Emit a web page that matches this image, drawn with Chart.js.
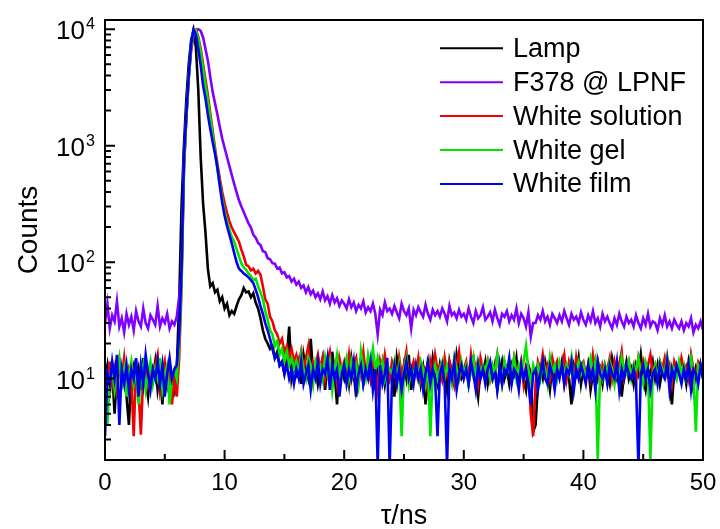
<!DOCTYPE html>
<html>
<head>
<meta charset="utf-8">
<script src="https://cdn.jsdelivr.net/npm/chart.js@4.4.1/dist/chart.umd.min.js"></script>
<style>
  html, body { margin: 0; padding: 0; background: #fff; }
</style>
</head>
<body>
<canvas id="chart" width="720" height="529"></canvas>
<script>
// time axis (ns)
const tau = [
  0, 0.2, 0.4, 0.6, 0.8, 1, 1.2, 1.4, 1.6, 1.8,
  2, 2.2, 2.4, 2.6, 2.8, 3, 3.2, 3.4, 3.6, 3.8,
  4, 4.2, 4.4, 4.6, 4.8, 5, 5.2, 5.4, 5.6, 5.8,
  6, 6.2, 6.4, 6.6, 6.8, 7, 7.2, 7.4, 7.6, 7.8,
  8, 8.2, 8.4, 8.6, 8.8, 9, 9.2, 9.4, 9.6, 9.8,
  10, 10.2, 10.4, 10.6, 10.8, 11, 11.2, 11.4, 11.6, 11.8,
  12, 12.2, 12.4, 12.6, 12.8, 13, 13.2, 13.4, 13.6, 13.8,
  14, 14.2, 14.4, 14.6, 14.8, 15, 15.2, 15.4, 15.6, 15.8,
  16, 16.2, 16.4, 16.6, 16.8, 17, 17.2, 17.4, 17.6, 17.8,
  18, 18.2, 18.4, 18.6, 18.8, 19, 19.2, 19.4, 19.6, 19.8,
  20, 20.2, 20.4, 20.6, 20.8, 21, 21.2, 21.4, 21.6, 21.8,
  22, 22.2, 22.4, 22.6, 22.8, 23, 23.2, 23.4, 23.6, 23.8,
  24, 24.2, 24.4, 24.6, 24.8, 25, 25.2, 25.4, 25.6, 25.8,
  26, 26.2, 26.4, 26.6, 26.8, 27, 27.2, 27.4, 27.6, 27.8,
  28, 28.2, 28.4, 28.6, 28.8, 29, 29.2, 29.4, 29.6, 29.8,
  30, 30.2, 30.4, 30.6, 30.8, 31, 31.2, 31.4, 31.6, 31.8,
  32, 32.2, 32.4, 32.6, 32.8, 33, 33.2, 33.4, 33.6, 33.8,
  34, 34.2, 34.4, 34.6, 34.8, 35, 35.2, 35.4, 35.6, 35.8,
  36, 36.2, 36.4, 36.6, 36.8, 37, 37.2, 37.4, 37.6, 37.8,
  38, 38.2, 38.4, 38.6, 38.8, 39, 39.2, 39.4, 39.6, 39.8,
  40, 40.2, 40.4, 40.6, 40.8, 41, 41.2, 41.4, 41.6, 41.8,
  42, 42.2, 42.4, 42.6, 42.8, 43, 43.2, 43.4, 43.6, 43.8,
  44, 44.2, 44.4, 44.6, 44.8, 45, 45.2, 45.4, 45.6, 45.8,
  46, 46.2, 46.4, 46.6, 46.8, 47, 47.2, 47.4, 47.6, 47.8,
  48, 48.2, 48.4, 48.6, 48.8, 49, 49.2, 49.4, 49.6, 49.8, 50
];

const lamp = [
  10, 13, 8, 12, 5, 11, 14, 9, 12, 7,
  4, 11, 13, 9, 12, 8, 15, 10, 7, 12,
  10, 14, 8, 11, 6, 12, 9, 13, 10, 8,
  12, 45, 300, 1000, 2500, 5000, 8000, 9800, 7000, 3000,
  800, 320, 180, 88, 62, 66, 55, 58, 46, 50,
  40, 44, 35, 38, 36, 42, 48, 52, 60, 55,
  56, 50, 54, 45, 40, 33, 26, 22, 20, 18,
  19, 15, 17, 13, 14, 11, 15, 28, 10, 13,
  11, 14, 9, 16, 12, 10, 22, 11, 13, 9,
  12, 15, 8, 13, 10, 17, 11, 6, 14, 12,
  10, 13, 9, 15, 11, 7, 12, 14, 9, 11,
  13, 10, 16, 8, 12, 11, 14, 9, 13, 10,
  12, 7, 15, 11, 9, 13, 10, 16, 8, 12,
  11, 14, 9, 12, 6, 13, 10, 15, 11, 9,
  13, 10, 12, 8, 14, 11, 9, 16, 12, 10,
  11, 13, 9, 12, 15, 10, 7, 12, 11, 14,
  9, 12, 10, 13, 8, 11, 14, 10, 12, 9,
  13, 11, 15, 9, 12, 10, 8, 13, 11, 3.5,
  4, 9, 12, 10, 14, 11, 8, 13, 10, 12,
  11, 14, 9, 12, 10, 6, 13, 11, 15, 9,
  12, 10, 13, 8, 11, 14, 10, 12, 9, 13,
  11, 9, 15, 12, 10, 13, 7, 11, 14, 10,
  12, 9, 13, 11, 16, 10, 8, 12, 11, 14,
  10, 13, 9, 12, 11, 15, 10, 6, 12, 11,
  13, 10, 12, 9, 14, 11, 8, 12, 10, 13, 11
];

const f378 = [
  30, 44, 27, 35, 31, 46, 28, 33, 25, 36,
  29, 34, 26, 38, 31, 28, 40, 30, 27, 35,
  32, 29, 42, 28, 33, 30, 36, 27, 31, 29,
  34, 50, 80, 600, 1800, 3800, 6500, 8800, 9800, 10000,
  9700, 8500, 6800, 5400, 3900, 2900, 2300, 1850, 1450, 1150,
  960, 800, 670, 560, 470, 400, 340, 300, 270, 240,
  215, 198, 172, 162, 146, 140, 124, 122, 108, 106,
  98, 97, 88, 90, 80, 82, 74, 76, 68, 72,
  64, 68, 60, 63, 55, 61, 53, 57, 50, 54,
  48, 56, 47, 51, 44, 52, 45, 49, 42, 47,
  44, 40, 48, 41, 45, 38, 43, 40, 46, 37,
  41, 38, 44, 36, 24, 39, 35, 45, 38, 40,
  36, 42, 37, 33, 44, 38, 35, 40, 27, 39,
  35, 41, 37, 34, 43, 36, 32, 39, 35, 38,
  34, 40, 36, 31, 42, 35, 37, 33, 39, 34,
  36, 32, 40, 34, 30, 38, 33, 35, 41, 32,
  34, 37, 31, 39, 33, 29, 36, 34, 38, 31,
  35, 32, 40, 30, 36, 33, 28, 37, 23, 30,
  30, 35, 32, 38, 31, 34, 29, 36, 33, 30,
  35, 31, 38, 33, 29, 36, 32, 34, 30, 37,
  32, 29, 35, 31, 38, 30, 33, 28, 36, 31,
  34, 30, 27, 33, 29, 36, 31, 28, 34, 30,
  32, 28, 35, 30, 27, 33, 29, 36, 28, 31,
  30, 26, 33, 29, 35, 28, 31, 27, 32, 29,
  27, 31, 26, 30, 28, 33, 25, 29, 27, 31, 26
];

const whiteSolution = [
  11, 8, 14, 9, 12, 7, 13, 10, 15, 9,
  12, 10, 3.2, 13, 8, 3.3, 11, 14, 9, 12,
  10, 13, 16, 8, 11, 14, 9, 12, 6, 10,
  7, 15, 60, 650, 1700, 3800, 7000, 9500, 9900, 8600,
  6800, 5000, 3700, 2700, 1900, 1350, 950, 700, 520, 400,
  320, 265, 225, 198, 180, 165, 150, 128, 112, 95,
  92, 85, 88, 80, 84, 78, 62, 48, 44, 34,
  31, 26, 24, 20, 22, 17, 19, 15, 18, 14,
  16, 13, 17, 12, 15, 19, 11, 14, 13, 16,
  12, 15, 10, 14, 17, 11, 13, 9, 15, 12,
  14, 11, 16, 10, 13, 15, 9, 12, 17, 11,
  13, 10, 15, 12, 8, 14, 11, 16, 12, 10,
  14, 12, 9, 15, 11, 13, 17, 10, 12, 14,
  11, 15, 10, 13, 12, 8, 14, 11, 16, 12,
  13, 10, 15, 11, 14, 12, 9, 13, 17, 11,
  12, 14, 10, 16, 11, 13, 9, 15, 12, 11,
  14, 10, 13, 12, 16, 11, 9, 14, 12, 13,
  10, 15, 12, 11, 14, 9, 13, 12, 5, 3.2,
  9, 14, 12, 16, 11, 13, 10, 15, 12, 14,
  11, 13, 16, 10, 14, 12, 9, 15, 11, 13,
  14, 11, 13, 10, 16, 12, 14, 9, 13, 11,
  12, 15, 10, 14, 11, 13, 17, 10, 12, 14,
  11, 13, 9, 15, 12, 14, 10, 13, 16, 11,
  13, 10, 14, 12, 15, 11, 13, 9, 14, 12,
  11, 15, 12, 13, 10, 16, 12, 11, 14, 13, 10
];

const whiteGel = [
  12, 4, 10, 13, 8, 11, 15, 9, 12, 7,
  11, 14, 9, 12, 6, 10, 13, 8, 11, 14,
  9, 12, 10, 15, 8, 11, 13, 6, 10, 12,
  10, 20, 70, 700, 1750, 3900, 7200, 9700, 9800, 8300,
  6300, 4600, 3300, 2450, 1750, 1250, 880, 640, 470, 350,
  270, 225, 190, 165, 150, 130, 112, 98, 90, 86,
  80, 76, 70, 72, 62, 55, 48, 38, 32, 26,
  24, 19, 21, 16, 18, 14, 17, 13, 15, 12,
  14, 11, 16, 12, 10, 15, 13, 9, 14, 12,
  13, 10, 15, 11, 14, 8, 12, 16, 11, 13,
  12, 15, 10, 14, 11, 13, 9, 17, 12, 10,
  16, 13, 18, 12, 15, 11, 14, 10, 13, 12,
  11, 14, 10, 13, 3.2, 12, 15, 9, 12, 11,
  13, 10, 14, 12, 9, 15, 3.2, 11, 13, 10,
  12, 14, 10, 13, 11, 9, 15, 12, 10, 14,
  11, 13, 9, 12, 15, 10, 14, 11, 13, 12,
  14, 10, 13, 11, 16, 12, 9, 14, 11, 13,
  12, 15, 10, 13, 11, 14, 19, 12, 9, 13,
  11, 13, 10, 14, 12, 9, 15, 11, 13, 10,
  14, 12, 10, 13, 11, 15, 9, 12, 14, 11,
  13, 10, 12, 15, 11, 14, 2, 12, 10, 13,
  11, 14, 12, 9, 13, 10, 15, 12, 11, 14,
  10, 13, 12, 15, 11, 9, 14, 12, 2, 11,
  13, 10, 14, 12, 11, 15, 9, 13, 12, 10,
  14, 11, 13, 10, 12, 15, 11, 3.5, 13, 12, 10
];

const whiteFilm = [
  3.2, 11, 9, 14, 10, 16, 4, 12, 9, 13,
  8, 12, 10, 15, 7, 13, 9, 16, 11, 8,
  12, 10, 14, 9, 13, 7, 11, 15, 10, 12,
  13, 24, 90, 800, 1900, 4000, 7500, 9900, 9000, 6800,
  4900, 3300, 2550, 1850, 1400, 1080, 850, 640, 450, 325,
  250, 205, 172, 145, 120, 100, 88, 84, 80, 77,
  74, 70, 66, 58, 50, 42, 36, 30, 26, 22,
  18, 15, 16, 13, 14, 11, 13, 10, 12, 9,
  12, 10, 14, 9, 11, 13, 8, 12, 10, 14,
  9, 12, 11, 15, 8, 13, 10, 12, 7, 11,
  13, 9, 12, 10, 14, 8, 11, 13, 9, 12,
  10, 14, 8, 12, 1.8, 13, 9, 11, 15, 1.8,
  10, 13, 9, 12, 8, 11, 14, 10, 12, 9,
  13, 10, 12, 8, 11, 14, 9, 12, 10, 3.2,
  11, 13, 9, 1.8, 12, 10, 14, 8, 11, 13,
  10, 12, 9, 14, 11, 8, 13, 10, 12, 9,
  12, 14, 10, 11, 8, 13, 9, 12, 11, 15,
  9, 12, 11, 8, 13, 10, 12, 9, 6, 11,
  12, 8, 11, 14, 10, 9, 13, 11, 8, 12,
  10, 13, 9, 12, 11, 14, 8, 12, 10, 13,
  11, 9, 13, 10, 12, 8, 14, 11, 10, 12,
  9, 13, 11, 10, 14, 8, 12, 10, 13, 11,
  10, 12, 9, 1.8, 11, 13, 10, 12, 8, 11,
  12, 9, 13, 11, 10, 14, 8, 12, 10, 13,
  11, 9, 12, 10, 13, 8, 12, 11, 9, 13, 10
];

const seriesNames = ['Lamp', 'F378 @ LPNF', 'White solution', 'White gel', 'White film'];
const seriesColors = ['#000000', '#8000ff', '#f00000', '#00e600', '#0000f0'];
const seriesValues = [lamp, f378, whiteSolution, whiteGel, whiteFilm];

const xMajorTicks = [0, 10, 20, 30, 40, 50];
const xMinorTicks = [5, 15, 25, 35, 45];
const yMajorTicks = [10, 100, 1000, 10000];
const yMinorTicks = [2, 3, 4, 5, 6, 7, 8, 9, 20, 30, 40, 50, 60, 70, 80, 90,
  200, 300, 400, 500, 600, 700, 800, 900, 2000, 3000, 4000, 5000, 6000, 7000, 8000, 9000];

const FONT = '"Liberation Sans", Arial, sans-serif';

function font(ctx, size) {
  ctx.font = size + 'px ' + FONT;
}

// frame, inward ticks, labels and legend
const decor = {
  id: 'decor',
  afterDatasetsDraw(chart) {
    const { ctx, chartArea: a } = chart;
    const xs = chart.scales.x;
    const ys = chart.scales.y;
    ctx.save();
    ctx.strokeStyle = '#000';
    ctx.fillStyle = '#000';
    ctx.lineWidth = 2;
    ctx.strokeRect(a.left, a.top, a.right - a.left, a.bottom - a.top);

    ctx.beginPath();
    xMajorTicks.forEach(v => {
      const px = xs.getPixelForValue(v);
      ctx.moveTo(px, a.bottom); ctx.lineTo(px, a.bottom - 10);
    });
    xMinorTicks.forEach(v => {
      const px = xs.getPixelForValue(v);
      ctx.moveTo(px, a.bottom); ctx.lineTo(px, a.bottom - 6);
    });
    yMajorTicks.forEach(v => {
      const py = ys.getPixelForValue(v);
      ctx.moveTo(a.left, py); ctx.lineTo(a.left + 10, py);
    });
    yMinorTicks.forEach(v => {
      const py = ys.getPixelForValue(v);
      ctx.moveTo(a.left, py); ctx.lineTo(a.left + 6, py);
    });
    ctx.stroke();

    // x tick labels
    font(ctx, 24);
    ctx.textAlign = 'center';
    ctx.textBaseline = 'alphabetic';
    xMajorTicks.forEach(v => {
      ctx.fillText(String(v), xs.getPixelForValue(v), a.bottom + 30);
    });

    // y tick labels as 10 with superscript exponent
    yMajorTicks.forEach(v => {
      const py = ys.getPixelForValue(v);
      const exp = String(Math.round(Math.log10(v)));
      font(ctx, 26);
      ctx.textAlign = 'right';
      ctx.fillText('10', a.left - 20, py + 10);
      font(ctx, 16);
      ctx.textAlign = 'left';
      ctx.fillText(exp, a.left - 19, py);
    });

    // axis titles
    font(ctx, 27);
    ctx.textAlign = 'center';
    ctx.fillText('\u03c4/ns', (a.left + a.right) / 2, 524);
    ctx.save();
    ctx.translate(37, 230);
    ctx.rotate(-Math.PI / 2);
    font(ctx, 28);
    ctx.fillText('Counts', 0, 0);
    ctx.restore();

    // legend
    font(ctx, 27);
    ctx.textAlign = 'left';
    seriesNames.forEach((name, i) => {
      const ly = 48.3 + 33.9 * i;
      ctx.strokeStyle = seriesColors[i];
      ctx.beginPath();
      ctx.moveTo(440, ly); ctx.lineTo(503, ly);
      ctx.stroke();
      ctx.fillStyle = '#000';
      ctx.fillText(name, 513, ly + 8.5);
    });
    ctx.restore();
  }
};

const datasets = seriesNames.map((name, i) => ({
  label: name,
  data: tau.map((t, j) => ({ x: t, y: seriesValues[i][j] })),
  borderColor: seriesColors[i],
  borderWidth: 2.6,
  pointRadius: 0,
  tension: 0,
  fill: false,
  order: seriesNames.length - i
}));

new Chart(document.getElementById('chart'), {
  type: 'line',
  data: { datasets },
  options: {
    responsive: false,
    animation: false,
    layout: { padding: { left: 105, right: 17, top: 20, bottom: 69 } },
    plugins: { legend: { display: false }, tooltip: { enabled: false } },
    scales: {
      x: { type: 'linear', min: 0, max: 50, display: false },
      y: { type: 'logarithmic', min: 2, max: 12000, display: false }
    }
  },
  plugins: [decor]
});
</script>
</body>
</html>
